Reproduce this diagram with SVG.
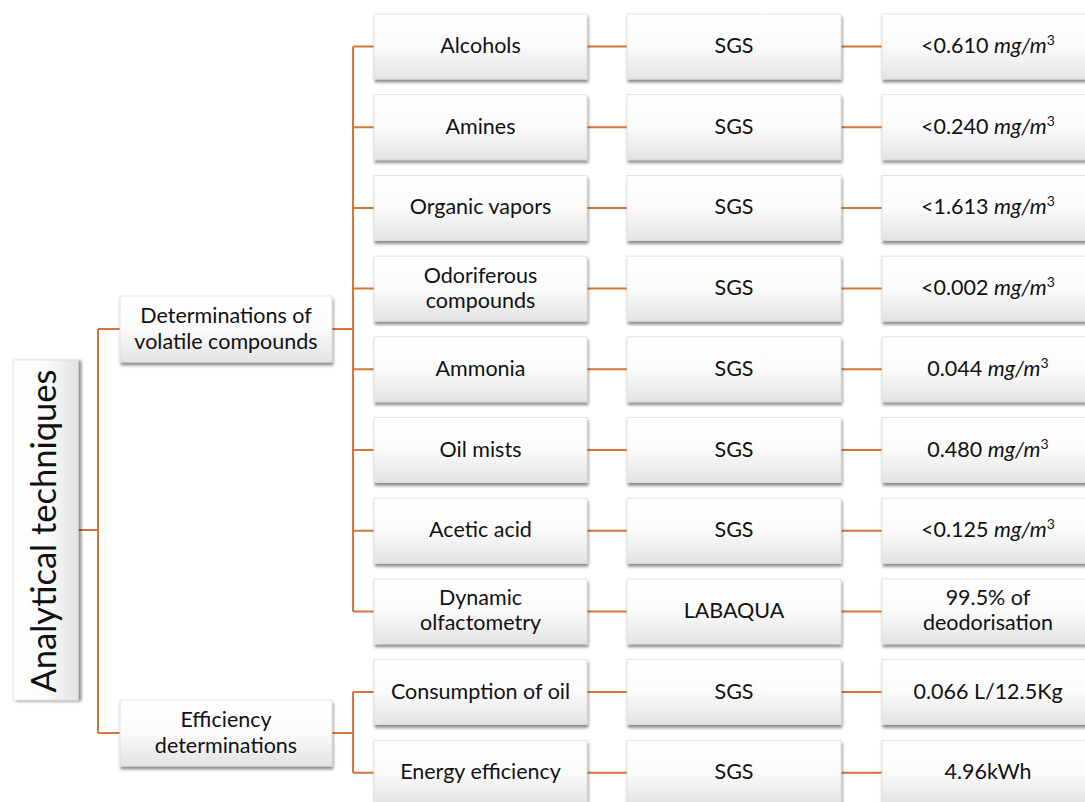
<svg xmlns="http://www.w3.org/2000/svg" width="1085" height="802" viewBox="0 0 1085 802">
<style>
.box{fill:url(#g);stroke:#dcdcdc;stroke-width:0.8;filter:url(#sh)}
.vbox{fill:url(#gh);stroke:#dcdcdc;stroke-width:0.8;filter:url(#shr)}
.t{font-family:Lato,"Liberation Sans",sans-serif;font-size:21.5px;fill:#111;text-anchor:middle}
.big{font-family:Lato,"Liberation Sans",sans-serif;font-size:34.5px;fill:#111;text-anchor:middle}
.c{stroke:#d4763a;stroke-width:2;fill:none}
.i{font-style:italic}
.sup{font-size:14px}
</style>
<defs>
<linearGradient id="g" x1="0" y1="0" x2="0" y2="1">
<stop offset="0" stop-color="#ffffff"/>
<stop offset="0.5" stop-color="#fbfbfb"/>
<stop offset="1" stop-color="#e3e3e3"/>
</linearGradient>
<linearGradient id="gh" x1="0" y1="0" x2="1" y2="0">
<stop offset="0" stop-color="#ffffff"/>
<stop offset="0.5" stop-color="#fbfbfb"/>
<stop offset="1" stop-color="#e3e3e3"/>
</linearGradient>
<filter id="sh" x="-10%" y="-10%" width="125%" height="140%">
<feDropShadow dx="1" dy="3" stdDeviation="1.8" flood-color="#000" flood-opacity="0.45"/>
</filter>
<filter id="shr" x="-20%" y="-5%" width="150%" height="115%">
<feDropShadow dx="3" dy="1" stdDeviation="1.8" flood-color="#000" flood-opacity="0.45"/>
</filter>
</defs>
<rect width="1085" height="802" fill="#fff"/>
<g id="connectors">
<path class="c" d="M78 530H98M98 329V733M98 329H120M98 733H120"/>
<path class="c" d="M332 329H353M353 46.5V611.4M353 46.5H374M353 127.2H374M353 207.9H374M353 288.6H374M353 369.3H374M353 450H374M353 530.7H374M353 611.4H374"/>
<path class="c" d="M332 733H353M353 692.1V772.8M353 692.1H374M353 772.8H374"/>
<path class="c" d="M587 46.5H627M587 127.2H627M587 207.9H627M587 288.6H627M587 369.3H627M587 450H627M587 530.7H627M587 611.4H627M587 692.1H627M587 772.8H627"/>
<path class="c" d="M841 46.5H882M841 127.2H882M841 207.9H882M841 288.6H882M841 369.3H882M841 450H882M841 530.7H882M841 611.4H882M841 692.1H882M841 772.8H882"/>
</g>
<g id="analytical"><rect class="vbox" x="13" y="360" width="65" height="340"/><text class="big" transform="translate(56,531) rotate(-90)">Analytical techniques</text></g>
<g id="determinations"><rect class="box" x="120" y="296" width="212" height="66"/><text class="t" x="226" y="323">Determinations of</text><text class="t" x="226" y="348.5">volatile compounds</text></g>
<g id="efficiency"><rect class="box" x="120" y="700" width="212" height="66"/><text class="t" x="226" y="727">Efficiency</text><text class="t" x="226" y="752.5">determinations</text></g>

<g id="alcohols"><rect class="box" x="374" y="14" width="213" height="65"/><text class="t" x="480.5" y="53">Alcohols</text></g>
<g id="sgs0"><rect class="box" x="627" y="14" width="214" height="65"/><text class="t" x="734" y="53">SGS</text></g>
<g id="v0"><rect class="box" x="882" y="14" width="213" height="65"/><text class="t" x="988" y="53">&lt;0.610 <tspan class="i">mg/m</tspan><tspan class="sup" dy="-8">3</tspan></text></g>

<g id="amines"><rect class="box" x="374" y="94.7" width="213" height="65"/><text class="t" x="480.5" y="133.7">Amines</text></g>
<g id="sgs1"><rect class="box" x="627" y="94.7" width="214" height="65"/><text class="t" x="734" y="133.7">SGS</text></g>
<g id="v1"><rect class="box" x="882" y="94.7" width="213" height="65"/><text class="t" x="988" y="133.7">&lt;0.240 <tspan class="i">mg/m</tspan><tspan class="sup" dy="-8">3</tspan></text></g>

<g id="organic"><rect class="box" x="374" y="175.4" width="213" height="65"/><text class="t" x="480.5" y="214.4">Organic vapors</text></g>
<g id="sgs2"><rect class="box" x="627" y="175.4" width="214" height="65"/><text class="t" x="734" y="214.4">SGS</text></g>
<g id="v2"><rect class="box" x="882" y="175.4" width="213" height="65"/><text class="t" x="988" y="214.4">&lt;1.613 <tspan class="i">mg/m</tspan><tspan class="sup" dy="-8">3</tspan></text></g>

<g id="odoriferous"><rect class="box" x="374" y="256.1" width="213" height="65"/><text class="t" x="480.5" y="282.5">Odoriferous</text><text class="t" x="480.5" y="307.5">compounds</text></g>
<g id="sgs3"><rect class="box" x="627" y="256.1" width="214" height="65"/><text class="t" x="734" y="295.1">SGS</text></g>
<g id="v3"><rect class="box" x="882" y="256.1" width="213" height="65"/><text class="t" x="988" y="295.1">&lt;0.002 <tspan class="i">mg/m</tspan><tspan class="sup" dy="-8">3</tspan></text></g>

<g id="ammonia"><rect class="box" x="374" y="336.8" width="213" height="65"/><text class="t" x="480.5" y="375.8">Ammonia</text></g>
<g id="sgs4"><rect class="box" x="627" y="336.8" width="214" height="65"/><text class="t" x="734" y="375.8">SGS</text></g>
<g id="v4"><rect class="box" x="882" y="336.8" width="213" height="65"/><text class="t" x="988" y="375.8">0.044 <tspan class="i">mg/m</tspan><tspan class="sup" dy="-8">3</tspan></text></g>

<g id="oilmists"><rect class="box" x="374" y="417.5" width="213" height="65"/><text class="t" x="480.5" y="456.5">Oil mists</text></g>
<g id="sgs5"><rect class="box" x="627" y="417.5" width="214" height="65"/><text class="t" x="734" y="456.5">SGS</text></g>
<g id="v5"><rect class="box" x="882" y="417.5" width="213" height="65"/><text class="t" x="988" y="456.5">0.480 <tspan class="i">mg/m</tspan><tspan class="sup" dy="-8">3</tspan></text></g>

<g id="acetic"><rect class="box" x="374" y="498.2" width="213" height="65"/><text class="t" x="480.5" y="537.2">Acetic acid</text></g>
<g id="sgs6"><rect class="box" x="627" y="498.2" width="214" height="65"/><text class="t" x="734" y="537.2">SGS</text></g>
<g id="v6"><rect class="box" x="882" y="498.2" width="213" height="65"/><text class="t" x="988" y="537.2">&lt;0.125 <tspan class="i">mg/m</tspan><tspan class="sup" dy="-8">3</tspan></text></g>

<g id="dynamic"><rect class="box" x="374" y="578.9" width="213" height="65"/><text class="t" x="480.5" y="605.3">Dynamic</text><text class="t" x="480.5" y="630.3">olfactometry</text></g>
<g id="labaqua"><rect class="box" x="627" y="578.9" width="214" height="65"/><text class="t" x="734" y="617.9">LABAQUA</text></g>
<g id="v7"><rect class="box" x="882" y="578.9" width="213" height="65"/><text class="t" x="988" y="605.3">99.5% of</text><text class="t" x="988" y="630.3">deodorisation</text></g>

<g id="consumption"><rect class="box" x="374" y="659.6" width="213" height="65"/><text class="t" x="480.5" y="698.6">Consumption of oil</text></g>
<g id="sgs8"><rect class="box" x="627" y="659.6" width="214" height="65"/><text class="t" x="734" y="698.6">SGS</text></g>
<g id="v8"><rect class="box" x="882" y="659.6" width="213" height="65"/><text class="t" x="988" y="698.6">0.066 L/12.5Kg</text></g>

<g id="energy"><rect class="box" x="374" y="740.3" width="213" height="65"/><text class="t" x="480.5" y="779.3">Energy efficiency</text></g>
<g id="sgs9"><rect class="box" x="627" y="740.3" width="214" height="65"/><text class="t" x="734" y="779.3">SGS</text></g>
<g id="v9"><rect class="box" x="882" y="740.3" width="213" height="65"/><text class="t" x="988" y="779.3">4.96kWh</text></g>
</svg>
